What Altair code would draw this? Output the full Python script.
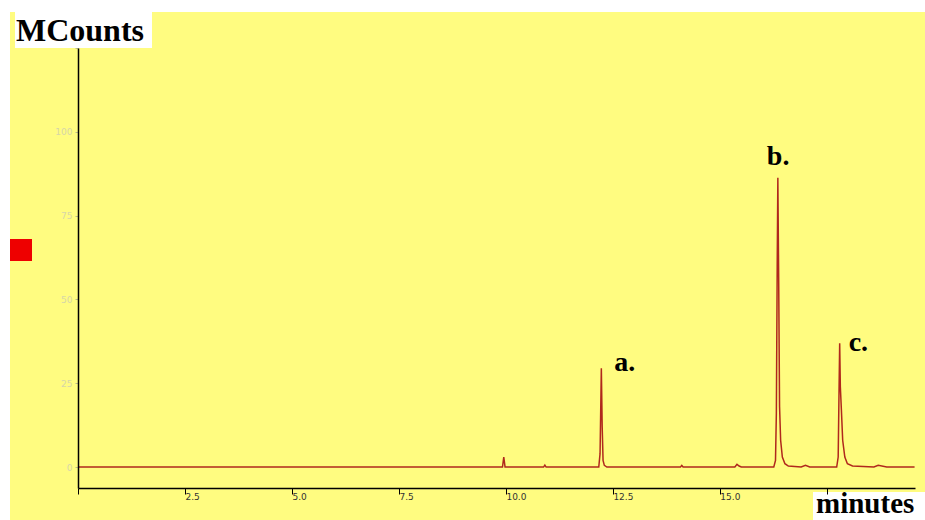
import altair as alt
import pandas as pd

# Chromatogram trace: retention time (minutes) and detector response (MCounts)
time_min = [0.0, 9.92, 9.95, 9.98, 10.88, 10.91, 10.94,
            12.17, 12.20, 12.23, 12.25, 12.27, 12.30, 12.36,
            14.08, 14.11, 14.14, 15.35, 15.40, 15.45, 15.50,
            16.26, 16.30, 16.32, 16.34, 16.355, 16.375, 16.395, 16.42, 16.46, 16.52, 16.60,
            16.90, 17.00, 17.10,
            17.73, 17.765, 17.785, 17.80, 17.815, 17.84, 17.87, 17.92, 17.98, 18.10,
            18.60, 18.70, 18.90, 19.55]
mcounts = [0.0, 0.0, 3.0, 0.0, 0.0, 0.6, 0.0,
           0.0, 4.0, 29.5, 12.0, 2.0, 0.5, 0.0,
           0.0, 0.5, 0.0, 0.0, 0.8, 0.3, 0.0,
           0.0, 2.0, 16.0, 60.0, 86.3, 55.0, 18.0, 8.0, 3.0, 1.0, 0.3,
           0.0, 0.5, 0.0,
           0.0, 3.0, 23.0, 36.9, 24.0, 17.0, 8.0, 3.0, 1.0, 0.3,
           0.0, 0.5, 0.0, 0.0]

# Labelled peaks
peak_labels = ["a.", "b.", "c."]
peak_times = [12.23, 16.355, 17.80]
peak_heights = [29.5, 86.3, 36.9]

x_ticks = [0, 2.5, 5.0, 7.5, 10.0, 12.5, 15.0, 17.5]
y_ticks = [0, 25, 50, 75, 100, 125]

trace = pd.DataFrame({"t": time_min, "v": mcounts})
peaks = pd.DataFrame({"label": peak_labels, "t": peak_times, "v": peak_heights})

W, H = 837, 440
YELLOW = "#FFFC80"
LINE = "#B0281C"

x_scale = alt.Scale(domain=[0, 19.56], nice=False, zero=False)
y_scale = alt.Scale(domain=[-6.25, 125], nice=False, zero=False)

x_axis = alt.Axis(values=x_ticks, title=None, grid=False, domainColor="black",
                  domainWidth=1.5, tickColor="black", tickSize=6, labelAlign="left",
                  labelBaseline="top", labelPadding=-2, labelFontSize=9,
                  labelColor="#333333", labelFont="DejaVu Sans",
                  labelExpr="datum.value == 0 || datum.value == 17.5 ? '' : format(datum.value, '.1f')",
                  zindex=1, offset=0)
y_axis = alt.Axis(values=y_ticks, title=None, grid=False, domainColor="black",
                  domainWidth=1.5, tickColor="#bbbb88", tickSize=3, labelFontSize=9,
                  labelColor="#d6d6a8", labelFont="DejaVu Sans", labelPadding=3,
                  labelExpr="datum.value == 125 ? '' : datum.label",
                  zindex=1)

# yellow backdrop behind the whole figure
backdrop = alt.Chart(trace).mark_rect(color=YELLOW, clip=False).encode(
    x=alt.value(-68), x2=alt.value(W + 10), y=alt.value(-36), y2=alt.value(H + 32)
).transform_filter("datum.t == 0")

line = alt.Chart(trace).mark_line(color=LINE, strokeWidth=1.5, interpolate="linear").encode(
    x=alt.X("t:Q", scale=x_scale, axis=x_axis),
    y=alt.Y("v:Q", scale=y_scale, axis=y_axis),
)

label_style = dict(font="Liberation Serif", fontWeight="bold", fontSize=28,
                   color="black", align="left", baseline="middle")
offsets = {"a.": (13, -5), "b.": (-11, -21), "c.": (9, 0)}
label_layers = [
    alt.Chart(peaks).transform_filter(alt.datum.label == lab)
    .mark_text(dx=dx, dy=dy, **label_style)
    .encode(x=alt.X("t:Q", scale=x_scale), y=alt.Y("v:Q", scale=y_scale), text="label:N")
    for lab, (dx, dy) in offsets.items()
]

# red marker square on the left margin
marker = alt.Chart(trace).transform_filter("datum.t == 0").mark_rect(color="#EE0000", clip=False).encode(
    x=alt.value(-68), x2=alt.value(-46), y=alt.value(191), y2=alt.value(213)
)

# axis titles on white boxes
ytitle_box = alt.Chart(trace).transform_filter("datum.t == 0").mark_rect(color="white", clip=False).encode(
    x=alt.value(-63), x2=alt.value(74), y=alt.value(-36), y2=alt.value(0)
)
ytitle = alt.Chart(trace).transform_filter("datum.t == 0").mark_text(
    text="MCounts", font="Liberation Serif", fontWeight="bold", fontSize=32,
    color="black", align="left", baseline="middle", clip=False
).encode(x=alt.value(-62), y=alt.value(-17))

xtitle_box = alt.Chart(trace).transform_filter("datum.t == 0").mark_rect(color="white", clip=False).encode(
    x=alt.value(735), x2=alt.value(W + 10), y=alt.value(H + 4), y2=alt.value(H + 32)
)
xtitle = alt.Chart(trace).transform_filter("datum.t == 0").mark_text(
    text="minutes", font="Liberation Serif", fontWeight="bold", fontSize=29,
    color="black", align="left", baseline="middle", clip=False
).encode(x=alt.value(738), y=alt.value(H + 16))

chart = alt.layer(
    backdrop, line, *label_layers, marker, ytitle_box, ytitle, xtitle_box, xtitle
).properties(
    width=W, height=H, background="white",
    padding={"left": 78, "top": 48, "right": 10, "bottom": 32},
    autosize=alt.AutoSizeParams(type="none"),
).configure_view(stroke=None)

chart.save("out.html", embed_options={"renderer": "svg", "actions": False})
